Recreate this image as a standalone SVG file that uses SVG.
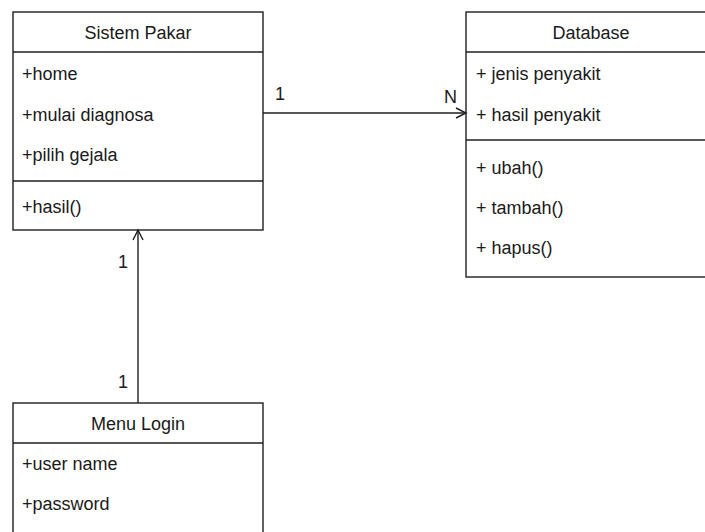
<svg xmlns="http://www.w3.org/2000/svg" width="705" height="532" viewBox="0 0 705 532">
  <style>
    .box { fill: #ffffff; stroke: #1f1f1f; stroke-width: 1.4; }
    .sep { stroke: #1f1f1f; stroke-width: 1.4; fill: none; }
    .t { font-family: "Liberation Sans", Arial, sans-serif; font-size: 18px; fill: #1a1a1a; }
    .h { text-anchor: middle; }
    .edge { stroke: #1f1f1f; stroke-width: 1.4; fill: none; }
  </style>
  <defs>
    <marker id="open" markerWidth="14" markerHeight="14" refX="11" refY="6" orient="auto" markerUnits="userSpaceOnUse">
      <path d="M1,1 L11,6 L1,11" fill="none" stroke="#1f1f1f" stroke-width="1.4"/>
    </marker>
  </defs>
  <rect width="705" height="532" fill="#ffffff"/>

  <!-- class: Sistem Pakar -->
  <g id="sistem-pakar">
    <rect class="box" x="13" y="12" width="250" height="218"/>
    <line class="sep" x1="13" y1="52" x2="263" y2="52"/>
    <line class="sep" x1="13" y1="181" x2="263" y2="181"/>
    <text class="t h" x="138" y="39">Sistem Pakar</text>
    <text class="t" x="22" y="80">+home</text>
    <text class="t" x="22" y="121">+mulai diagnosa</text>
    <text class="t" x="22" y="161">+pilih gejala</text>
    <text class="t" x="22" y="213">+hasil()</text>
  </g>

  <!-- class: Database -->
  <g id="database">
    <rect class="box" x="466" y="12" width="250" height="265"/>
    <line class="sep" x1="466" y1="52" x2="716" y2="52"/>
    <line class="sep" x1="466" y1="140" x2="716" y2="140"/>
    <text class="t h" x="591" y="39">Database</text>
    <text class="t" x="476" y="80">+ jenis penyakit</text>
    <text class="t" x="476" y="121">+ hasil penyakit</text>
    <text class="t" x="476" y="174">+ ubah()</text>
    <text class="t" x="476" y="214">+ tambah()</text>
    <text class="t" x="476" y="254">+ hapus()</text>
  </g>

  <!-- class: Menu Login -->
  <g id="menu-login">
    <rect class="box" x="13" y="403" width="250" height="140"/>
    <line class="sep" x1="13" y1="443" x2="263" y2="443"/>
    <text class="t h" x="138" y="430">Menu Login</text>
    <text class="t" x="22" y="470">+user name</text>
    <text class="t" x="22" y="510">+password</text>
  </g>

  <!-- associations -->
  <g id="connectors">
    <line class="edge" x1="263" y1="113" x2="466" y2="113" marker-end="url(#open)"/>
    <text class="t" x="275" y="100">1</text>
    <text class="t" x="444" y="103">N</text>
    <line class="edge" x1="138" y1="403" x2="138" y2="230" marker-end="url(#open)"/>
    <text class="t" x="118" y="268">1</text>
    <text class="t" x="118" y="388">1</text>
  </g>
</svg>
